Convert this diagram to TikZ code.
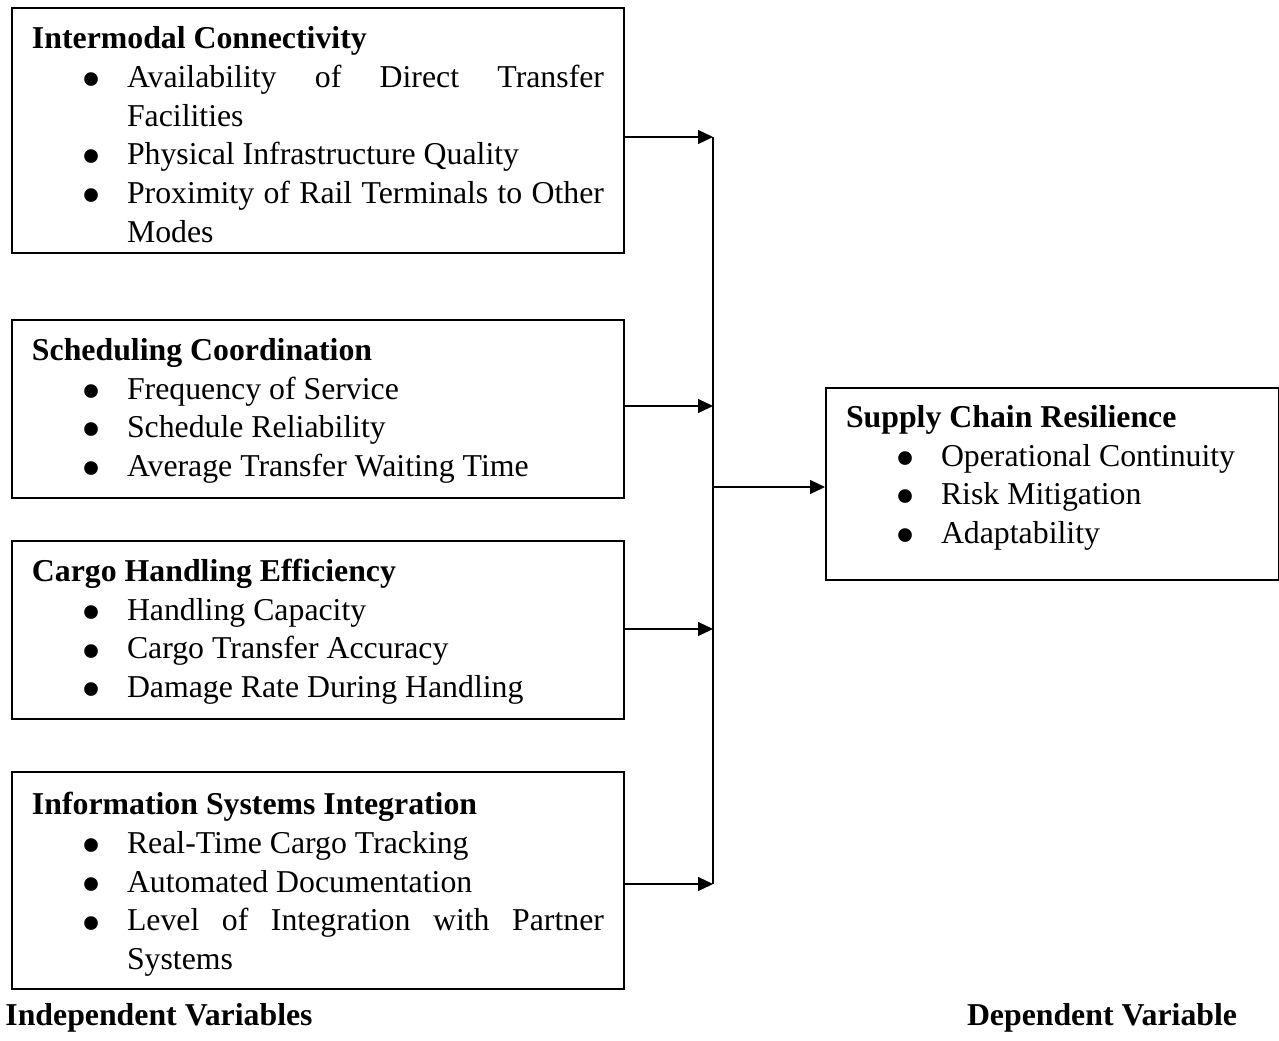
\documentclass[tikz,border=0pt]{standalone}
\usepackage{fontspec}
\setmainfont{Liberation Serif}
\usepackage{graphicx}
\usetikzlibrary{arrows.meta,positioning}
\tolerance=10000
\hyphenpenalty=10000
\newcommand{\varbullet}{\raisebox{-5.6pt}{\scalebox{1.8}{\textbullet}}}
\newcommand{\varhead}[1]{\noindent\textbf{#1}\par}
\newcommand{\varitem}[1]{\hangindent=47.5pt\hangafter=0\noindent\llap{\makebox[0pt][c]{\varbullet}\hspace{17.5pt}}#1\par}
\tikzset{
  varbox/.style={
    rectangle,
    draw=black,
    line width=1pt,
    text width=286pt,
    align=justify,
    inner xsep=10pt,
    inner ysep=0pt,
    font=\fontsize{15.9pt}{19.35pt}\selectfont,
    execute at end node=\vspace{-4pt}
  },
  varlabel/.style={
    inner sep=0pt,
    font=\bfseries\fontsize{15.9pt}{19.25pt}\selectfont
  },
  vararrow/.style={
    -{Triangle[length=7.5pt,width=7pt]},
    line width=0.6pt,
    draw=black
  }
}
\begin{document}
\begin{tikzpicture}[x=0.5pt,y=-0.5pt]
\useasboundingbox (0,0) rectangle (1279,1040);
\node[varbox, minimum height=122.5pt, anchor=north west] (connect) at (11,7) {%
  \varhead{Intermodal Connectivity}
  \varitem{Availability of Direct Transfer Facilities}
  \varitem{Physical Infrastructure Quality}
  \varitem{Proximity of Rail Terminals to Other Modes}};
\node[varbox, minimum height=89pt, below=32.5pt of connect] (sched) {%
  \varhead{Scheduling Coordination}
  \varitem{Frequency of Service}
  \varitem{Schedule Reliability}
  \varitem{Average Transfer Waiting Time}};
\node[varbox, minimum height=89pt, below=20.5pt of sched] (cargo) {%
  \varhead{Cargo Handling Efficiency}
  \varitem{Handling Capacity}
  \varitem{Cargo Transfer Accuracy}
  \varitem{Damage Rate During Handling}};
\node[varbox, minimum height=108.5pt, below=25.5pt of cargo] (infosys) {%
  \varhead{Information Systems Integration}
  \varitem{Real-Time Cargo Tracking}
  \varitem{Automated Documentation}
  \varitem{Level of Integration with Partner Systems}};
\node[varbox, text width=206.5pt, minimum height=96pt, anchor=north west,
  execute at end node={\vspace{8pt}}] (resil) at (825,387) {%
  \varhead{Supply Chain Resilience}
  \varitem{Operational Continuity}
  \varitem{Risk Mitigation}
  \varitem{Adaptability}};

% collecting line
\coordinate (bustop) at (713,137);
\coordinate (busbot) at (713,884);
\coordinate (j2) at (713,406);
\coordinate (j3) at (713,629);
\coordinate (jout) at (713,487);
\draw[line width=1pt] (bustop) -- (busbot);
\draw[vararrow] (connect.east |- bustop) -- (bustop);
\draw[vararrow] (sched.east |- j2) -- (j2);
\draw[vararrow] (cargo.east |- j3) -- (j3);
\draw[vararrow] (infosys.east |- busbot) -- (busbot);
\draw[vararrow] (jout) -- (resil.west |- jout);

\node[varlabel, anchor=base west] (indep) at (5,1025) {Independent Variables};
\node[varlabel, anchor=base] (dep) at (1102,1025) {Dependent Variable};
\end{tikzpicture}
\end{document}
